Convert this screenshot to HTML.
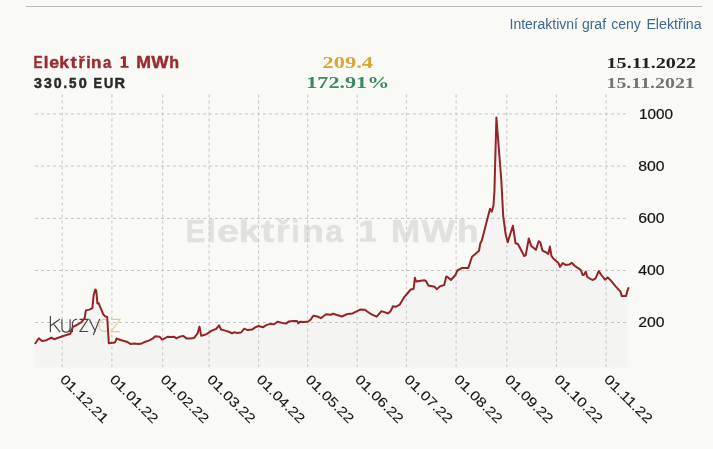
<!DOCTYPE html>
<html><head><meta charset="utf-8"><style>
html,body{margin:0;padding:0;background:#f9f9f6;width:713px;height:449px;overflow:hidden}
svg{position:absolute;left:0;top:0;display:block;will-change:transform}
text{font-family:"Liberation Sans",sans-serif}
.serif{font-family:"Liberation Serif",serif;font-weight:bold}
</style></head><body>
<svg width="713" height="449" viewBox="0 0 713 449">
<rect x="0" y="0" width="713" height="449" fill="#f9f9f6"/>
<line x1="26" y1="6.5" x2="702" y2="6.5" stroke="#bcbcb9" stroke-width="1.2"/>
<text y="28.5" font-size="14" fill="#3d6794"><tspan x="509.5">Interaktivní</tspan><tspan x="581.9">graf</tspan><tspan x="611.3">ceny</tspan><tspan x="646.4" textLength="55.2" lengthAdjust="spacingAndGlyphs">Elektřina</tspan></text>
<text x="33.54" y="67.55" font-size="16.3" font-weight="bold" fill="#9c2a2c" stroke="#9c2a2c" stroke-width="0.4" textLength="9.04" lengthAdjust="spacingAndGlyphs">E</text>
<text x="43.88" y="67.55" font-size="16.3" font-weight="bold" fill="#9c2a2c" stroke="#9c2a2c" stroke-width="0.4" textLength="4.66" lengthAdjust="spacingAndGlyphs">l</text>
<text x="49.25" y="67.55" font-size="16.3" font-weight="bold" fill="#9c2a2c" stroke="#9c2a2c" stroke-width="0.4" textLength="9.90" lengthAdjust="spacingAndGlyphs">e</text>
<text x="59.22" y="67.55" font-size="16.3" font-weight="bold" fill="#9c2a2c" stroke="#9c2a2c" stroke-width="0.4" textLength="9.82" lengthAdjust="spacingAndGlyphs">k</text>
<text x="70.42" y="67.55" font-size="16.3" font-weight="bold" fill="#9c2a2c" stroke="#9c2a2c" stroke-width="0.4" textLength="6.26" lengthAdjust="spacingAndGlyphs">t</text>
<text x="78.52" y="67.55" font-size="16.3" font-weight="bold" fill="#9c2a2c" stroke="#9c2a2c" stroke-width="0.4" textLength="6.16" lengthAdjust="spacingAndGlyphs">ř</text>
<text x="86.23" y="67.55" font-size="16.3" font-weight="bold" fill="#9c2a2c" stroke="#9c2a2c" stroke-width="0.4" textLength="4.45" lengthAdjust="spacingAndGlyphs">i</text>
<text x="91.13" y="67.55" font-size="16.3" font-weight="bold" fill="#9c2a2c" stroke="#9c2a2c" stroke-width="0.4" textLength="10.37" lengthAdjust="spacingAndGlyphs">n</text>
<text x="103.02" y="67.55" font-size="16.3" font-weight="bold" fill="#9c2a2c" stroke="#9c2a2c" stroke-width="0.4" textLength="8.24" lengthAdjust="spacingAndGlyphs">a</text>
<text x="136.36" y="67.55" font-size="16.3" font-weight="bold" fill="#9c2a2c" stroke="#9c2a2c" stroke-width="0.4" textLength="14.77" lengthAdjust="spacingAndGlyphs">M</text>
<text x="151.23" y="67.55" font-size="16.3" font-weight="bold" fill="#9c2a2c" stroke="#9c2a2c" stroke-width="0.4" textLength="17.34" lengthAdjust="spacingAndGlyphs">W</text>
<text x="169.33" y="67.55" font-size="16.3" font-weight="bold" fill="#9c2a2c" stroke="#9c2a2c" stroke-width="0.4" textLength="9.82" lengthAdjust="spacingAndGlyphs">h</text>
<path fill="#9c2a2c" d="M122.9,56.2 H125.9 V65.9 H128.6 V67.7 H120.6 V65.9 H122.9 V58.6 L120.7,59.2 V57.3 Z"/>
<text x="33.92" y="87.6" font-size="14" font-weight="bold" fill="#2b2b2b" stroke="#2b2b2b" stroke-width="0.5" textLength="7.94" lengthAdjust="spacingAndGlyphs">3</text>
<text x="43.93" y="87.6" font-size="14" font-weight="bold" fill="#2b2b2b" stroke="#2b2b2b" stroke-width="0.5" textLength="7.83" lengthAdjust="spacingAndGlyphs">3</text>
<text x="53.89" y="87.6" font-size="14" font-weight="bold" fill="#2b2b2b" stroke="#2b2b2b" stroke-width="0.5" textLength="7.84" lengthAdjust="spacingAndGlyphs">0</text>
<text x="63.48" y="87.6" font-size="14" font-weight="bold" fill="#2b2b2b" stroke="#2b2b2b" stroke-width="0.5" textLength="3.54" lengthAdjust="spacingAndGlyphs">.</text>
<text x="68.94" y="87.6" font-size="14" font-weight="bold" fill="#2b2b2b" stroke="#2b2b2b" stroke-width="0.5" textLength="7.49" lengthAdjust="spacingAndGlyphs">5</text>
<text x="78.88" y="87.6" font-size="14" font-weight="bold" fill="#2b2b2b" stroke="#2b2b2b" stroke-width="0.5" textLength="8.07" lengthAdjust="spacingAndGlyphs">0</text>
<text x="93.60" y="87.6" font-size="14" font-weight="bold" fill="#2b2b2b" stroke="#2b2b2b" stroke-width="0.5" textLength="8.44" lengthAdjust="spacingAndGlyphs">E</text>
<text x="103.88" y="87.6" font-size="14" font-weight="bold" fill="#2b2b2b" stroke="#2b2b2b" stroke-width="0.5" textLength="9.25" lengthAdjust="spacingAndGlyphs">U</text>
<text x="114.48" y="87.6" font-size="14" font-weight="bold" fill="#2b2b2b" stroke="#2b2b2b" stroke-width="0.5" textLength="10.47" lengthAdjust="spacingAndGlyphs">R</text>
<text class="serif" x="322.6" y="67.9" font-size="17" fill="#d4a83c" textLength="50.5" lengthAdjust="spacingAndGlyphs">209.4</text>
<text class="serif" x="306.3" y="87.9" font-size="16.8" fill="#3c8a62" textLength="83" lengthAdjust="spacingAndGlyphs">172.91%</text>
<text class="serif" x="606.5" y="68" font-size="15.4" fill="#222222" textLength="89.6" lengthAdjust="spacingAndGlyphs">15.11.2022</text>
<text class="serif" x="606.5" y="87.8" font-size="15.6" fill="#737373" textLength="88.3" lengthAdjust="spacingAndGlyphs">15.11.2021</text>
<defs><clipPath id="ac"><rect x="34" y="90" width="593.6" height="280"/></clipPath></defs>
<path d="M35.4,367.3 L35.4,343.3 L38.8,338.3 L42,341 L46.4,340.2 L51.5,337.6 L54,339.2 L59.7,337.3 L64.1,335.7 L70.4,333.8 L71.7,330 L72.9,326.8 L76.8,325 L81.5,322.1 L84.6,318.2 L85.9,310.4 L89.3,309.6 L92.4,308.1 L93.6,295.6 L95.2,289.4 L96.3,290.9 L97.4,303.4 L98.6,303.1 L103.3,314.3 L104.9,316.2 L107.2,317 L108.8,343.2 L115,342.4 L116.6,338.5 L120.5,340 L126.7,341.7 L130.9,344.1 L134.3,343.4 L138.5,344.1 L141.9,343.4 L145.3,341.7 L149.5,340.4 L152.8,338.4 L155.4,336.2 L159.6,336.7 L162.1,339.6 L164.6,338.4 L168,336.7 L171.3,337 L173.9,336.7 L176.4,338.4 L179.8,336.7 L183.1,335.9 L186.5,338.4 L189.9,338.4 L194.1,337.9 L197.4,333.7 L199.5,326.6 L201.1,335.7 L205.8,334.5 L208.4,332.8 L211.7,330.6 L216,329 L217.6,327.3 L219,325.3 L221,329.5 L225.2,330.6 L229.4,332 L232,333.3 L234.5,332.3 L236.7,332.9 L240.9,332.6 L244.3,328.7 L247.7,330.1 L251.9,329.6 L255.3,327.3 L258.6,326 L262.8,327.3 L266.2,325.1 L270.4,323.9 L274.1,324.3 L277.5,321.7 L282.2,322.9 L286.4,323.4 L288.9,321.4 L293.1,320.9 L297,320.9 L298.2,323.4 L299.9,321.7 L304.1,321.9 L308.3,321.5 L310.8,319.4 L313.3,315.7 L317.5,316.5 L320.9,318.2 L326,314.3 L331,314.8 L333,313.6 L336.1,314.8 L342,316.5 L346.2,314.5 L347.6,313.9 L352.6,313.4 L356,311.7 L360.2,309.6 L364.9,309.7 L368.6,312.5 L372,314.7 L376.7,316.7 L381.2,311.3 L383.8,311.9 L388,313.5 L390.5,311.3 L393,306.3 L395.6,306.8 L399.8,304.6 L404,297.4 L406.5,294.5 L410.7,289.5 L413.6,289 L414.9,277.7 L416.1,281.5 L419.1,281 L424.2,280.2 L425.9,281 L428.4,285.6 L434.5,286.7 L436.7,289.2 L440.5,286.1 L444.2,285 L446.2,276.4 L448,277.4 L450.9,280 L455.4,275 L457.4,270.5 L462.2,267.9 L468.3,268 L472,256.8 L475,254.3 L479,250.7 L480.3,243.5 L481.8,240.5 L490,208.8 L491.8,211.6 L493.4,206 L494.4,192 L496.4,117.5 L501.3,180 L503.2,215.8 L505.7,234.5 L507.7,242.3 L512.9,225.7 L515.5,243.2 L517.9,244 L524.2,256 L525.7,255.2 L528.8,238.5 L531.2,245.9 L535.9,249.8 L538.7,241.2 L540.5,242.7 L542.4,250.5 L546,252.4 L548.3,254 L549.9,246.6 L551.5,256 L553.8,259.1 L558.5,263 L560,266.9 L562.7,263 L565.5,264.9 L569.4,264.6 L571.7,262.7 L574.6,265.7 L577.3,267.6 L580.7,269.8 L582.7,275.1 L584,274.7 L585.8,271.6 L587.1,276.7 L589.4,278.3 L592.4,280 L595.4,278.7 L598.7,271.1 L602.1,276 L605,279.7 L607.7,277.4 L610.1,279.7 L615.4,286.1 L620.5,291.7 L621.8,296.1 L626.1,296.1 L627.2,291.4 L628.4,288.1 L628.4,367.3 Z" fill="#f4f4f3" clip-path="url(#ac)"/>
<text x="185.84" y="241.7" font-size="31" font-weight="bold" fill="#e1e1e0" stroke="#e1e1e0" stroke-width="0.5" textLength="19.50" lengthAdjust="spacingAndGlyphs">E</text>
<text x="207.01" y="241.7" font-size="31" font-weight="bold" fill="#e1e1e0" stroke="#e1e1e0" stroke-width="0.5" textLength="8.71" lengthAdjust="spacingAndGlyphs">l</text>
<text x="216.96" y="241.7" font-size="31" font-weight="bold" fill="#e1e1e0" stroke="#e1e1e0" stroke-width="0.5" textLength="21.88" lengthAdjust="spacingAndGlyphs">e</text>
<text x="238.63" y="241.7" font-size="31" font-weight="bold" fill="#e1e1e0" stroke="#e1e1e0" stroke-width="0.5" textLength="21.23" lengthAdjust="spacingAndGlyphs">k</text>
<text x="261.01" y="241.7" font-size="31" font-weight="bold" fill="#e1e1e0" stroke="#e1e1e0" stroke-width="0.5" textLength="13.27" lengthAdjust="spacingAndGlyphs">t</text>
<text x="275.74" y="241.7" font-size="31" font-weight="bold" fill="#e1e1e0" stroke="#e1e1e0" stroke-width="0.5" textLength="13.73" lengthAdjust="spacingAndGlyphs">ř</text>
<text x="291.36" y="241.7" font-size="31" font-weight="bold" fill="#e1e1e0" stroke="#e1e1e0" stroke-width="0.5" textLength="8.50" lengthAdjust="spacingAndGlyphs">i</text>
<text x="302.04" y="241.7" font-size="31" font-weight="bold" fill="#e1e1e0" stroke="#e1e1e0" stroke-width="0.5" textLength="21.88" lengthAdjust="spacingAndGlyphs">n</text>
<text x="325.37" y="241.7" font-size="31" font-weight="bold" fill="#e1e1e0" stroke="#e1e1e0" stroke-width="0.5" textLength="17.63" lengthAdjust="spacingAndGlyphs">a</text>
<text x="391.06" y="241.7" font-size="31" font-weight="bold" fill="#e1e1e0" stroke="#e1e1e0" stroke-width="0.5" textLength="29.19" lengthAdjust="spacingAndGlyphs">M</text>
<text x="421.37" y="241.7" font-size="31" font-weight="bold" fill="#e1e1e0" stroke="#e1e1e0" stroke-width="0.5" textLength="33.77" lengthAdjust="spacingAndGlyphs">W</text>
<text x="457.14" y="241.7" font-size="31" font-weight="bold" fill="#e1e1e0" stroke="#e1e1e0" stroke-width="0.5" textLength="21.55" lengthAdjust="spacingAndGlyphs">h</text>
<path fill="#e1e1e0" d="M366,220.4 H372 V238.3 H375.8 V241.7 H360.1 V238.3 H366 V225.6 L360.2,226.9 V223 Z"/>
<g stroke="#c4c4c4" stroke-width="1" stroke-dasharray="3,3" fill="none">
<line x1="35" y1="113.90" x2="627" y2="113.90"/>
<line x1="35" y1="166.00" x2="627" y2="166.00"/>
<line x1="35" y1="218.40" x2="627" y2="218.40"/>
<line x1="35" y1="270.50" x2="627" y2="270.50"/>
<line x1="35" y1="322.50" x2="627" y2="322.50"/>
<line x1="62.20" y1="94.5" x2="62.20" y2="367.3"/>
<line x1="111.90" y1="94.5" x2="111.90" y2="367.3"/>
<line x1="162.70" y1="94.5" x2="162.70" y2="367.3"/>
<line x1="209.10" y1="94.5" x2="209.10" y2="367.3"/>
<line x1="258.60" y1="94.5" x2="258.60" y2="367.3"/>
<line x1="307.70" y1="94.5" x2="307.70" y2="367.3"/>
<line x1="357.20" y1="94.5" x2="357.20" y2="367.3"/>
<line x1="406.40" y1="94.5" x2="406.40" y2="367.3"/>
<line x1="456.10" y1="94.5" x2="456.10" y2="367.3"/>
<line x1="506.80" y1="94.5" x2="506.80" y2="367.3"/>
<line x1="556.40" y1="94.5" x2="556.40" y2="367.3"/>
<line x1="606.10" y1="94.5" x2="606.10" y2="367.3"/>
</g>
<g fill="none" stroke-width="1.15" stroke-linecap="butt" stroke-linejoin="miter">
<path stroke="#3a3a3a" opacity="0.95" d="M50.4,315.9 V332.2 M50.6,325.8 L59.8,319.2 M53.9,324.3 L60.1,332.2 M61.9,319.2 V327.5 Q61.9,332.2 66,332.2 Q70.1,332.2 70.1,327.5 M70.1,319.2 V332.2 M72.4,332.2 V323.5 Q72.8,319.2 77.2,319.2 M79.5,319.3 H88 L80,331.5 H88.2 M89.3,319.3 L95.5,331.8 M99.7,319 L93.3,335"/>
<path stroke="#e2cd96" d="M107.6,320.8 Q105.8,319.2 104.3,319.2 Q99,319.6 99,325.3 Q99.2,331.4 104.3,331.4 Q106,331.4 107.8,330 M110.7,319.3 H120 L111,331.6 H120.2"/>
</g>
<polyline points="35.4,343.3 38.8,338.3 42,341 46.4,340.2 51.5,337.6 54,339.2 59.7,337.3 64.1,335.7 70.4,333.8 71.7,330 72.9,326.8 76.8,325 81.5,322.1 84.6,318.2 85.9,310.4 89.3,309.6 92.4,308.1 93.6,295.6 95.2,289.4 96.3,290.9 97.4,303.4 98.6,303.1 103.3,314.3 104.9,316.2 107.2,317 108.8,343.2 115,342.4 116.6,338.5 120.5,340 126.7,341.7 130.9,344.1 134.3,343.4 138.5,344.1 141.9,343.4 145.3,341.7 149.5,340.4 152.8,338.4 155.4,336.2 159.6,336.7 162.1,339.6 164.6,338.4 168,336.7 171.3,337 173.9,336.7 176.4,338.4 179.8,336.7 183.1,335.9 186.5,338.4 189.9,338.4 194.1,337.9 197.4,333.7 199.5,326.6 201.1,335.7 205.8,334.5 208.4,332.8 211.7,330.6 216,329 217.6,327.3 219,325.3 221,329.5 225.2,330.6 229.4,332 232,333.3 234.5,332.3 236.7,332.9 240.9,332.6 244.3,328.7 247.7,330.1 251.9,329.6 255.3,327.3 258.6,326 262.8,327.3 266.2,325.1 270.4,323.9 274.1,324.3 277.5,321.7 282.2,322.9 286.4,323.4 288.9,321.4 293.1,320.9 297,320.9 298.2,323.4 299.9,321.7 304.1,321.9 308.3,321.5 310.8,319.4 313.3,315.7 317.5,316.5 320.9,318.2 326,314.3 331,314.8 333,313.6 336.1,314.8 342,316.5 346.2,314.5 347.6,313.9 352.6,313.4 356,311.7 360.2,309.6 364.9,309.7 368.6,312.5 372,314.7 376.7,316.7 381.2,311.3 383.8,311.9 388,313.5 390.5,311.3 393,306.3 395.6,306.8 399.8,304.6 404,297.4 406.5,294.5 410.7,289.5 413.6,289 414.9,277.7 416.1,281.5 419.1,281 424.2,280.2 425.9,281 428.4,285.6 434.5,286.7 436.7,289.2 440.5,286.1 444.2,285 446.2,276.4 448,277.4 450.9,280 455.4,275 457.4,270.5 462.2,267.9 468.3,268 472,256.8 475,254.3 479,250.7 480.3,243.5 481.8,240.5 490,208.8 491.8,211.6 493.4,206 494.4,192 496.4,117.5 501.3,180 503.2,215.8 505.7,234.5 507.7,242.3 512.9,225.7 515.5,243.2 517.9,244 524.2,256 525.7,255.2 528.8,238.5 531.2,245.9 535.9,249.8 538.7,241.2 540.5,242.7 542.4,250.5 546,252.4 548.3,254 549.9,246.6 551.5,256 553.8,259.1 558.5,263 560,266.9 562.7,263 565.5,264.9 569.4,264.6 571.7,262.7 574.6,265.7 577.3,267.6 580.7,269.8 582.7,275.1 584,274.7 585.8,271.6 587.1,276.7 589.4,278.3 592.4,280 595.4,278.7 598.7,271.1 602.1,276 605,279.7 607.7,277.4 610.1,279.7 615.4,286.1 620.5,291.7 621.8,296.1 626.1,296.1 627.2,291.4 628.4,288.1" fill="none" stroke="#952427" stroke-width="2" stroke-linejoin="round" stroke-linecap="round"/>
<g font-size="14" fill="#161616" stroke="#161616" stroke-width="0.2">
<text x="639.0" y="118.80" textLength="34.1" lengthAdjust="spacingAndGlyphs">1000</text>
<text x="638.3" y="170.80" textLength="26.3" lengthAdjust="spacingAndGlyphs">800</text>
<text x="638.3" y="222.80" textLength="26.3" lengthAdjust="spacingAndGlyphs">600</text>
<text x="638.3" y="274.75" textLength="26.3" lengthAdjust="spacingAndGlyphs">400</text>
<text x="638.3" y="326.80" textLength="26.3" lengthAdjust="spacingAndGlyphs">200</text>
</g>
<g font-size="13.5" fill="#161616" stroke="#161616" stroke-width="0.12">
<text transform="translate(59.30,380.3) rotate(45)" textLength="62" lengthAdjust="spacingAndGlyphs">01.12.21</text>
<text transform="translate(109.00,380.3) rotate(45)" textLength="62" lengthAdjust="spacingAndGlyphs">01.01.22</text>
<text transform="translate(159.80,380.3) rotate(45)" textLength="62" lengthAdjust="spacingAndGlyphs">01.02.22</text>
<text transform="translate(206.20,380.3) rotate(45)" textLength="62" lengthAdjust="spacingAndGlyphs">01.03.22</text>
<text transform="translate(255.70,380.3) rotate(45)" textLength="62" lengthAdjust="spacingAndGlyphs">01.04.22</text>
<text transform="translate(304.80,380.3) rotate(45)" textLength="62" lengthAdjust="spacingAndGlyphs">01.05.22</text>
<text transform="translate(354.30,380.3) rotate(45)" textLength="62" lengthAdjust="spacingAndGlyphs">01.06.22</text>
<text transform="translate(403.50,380.3) rotate(45)" textLength="62" lengthAdjust="spacingAndGlyphs">01.07.22</text>
<text transform="translate(453.20,380.3) rotate(45)" textLength="62" lengthAdjust="spacingAndGlyphs">01.08.22</text>
<text transform="translate(503.90,380.3) rotate(45)" textLength="62" lengthAdjust="spacingAndGlyphs">01.09.22</text>
<text transform="translate(553.50,380.3) rotate(45)" textLength="62" lengthAdjust="spacingAndGlyphs">01.10.22</text>
<text transform="translate(603.20,380.3) rotate(45)" textLength="62" lengthAdjust="spacingAndGlyphs">01.11.22</text>
</g>
</svg>
</body></html>
